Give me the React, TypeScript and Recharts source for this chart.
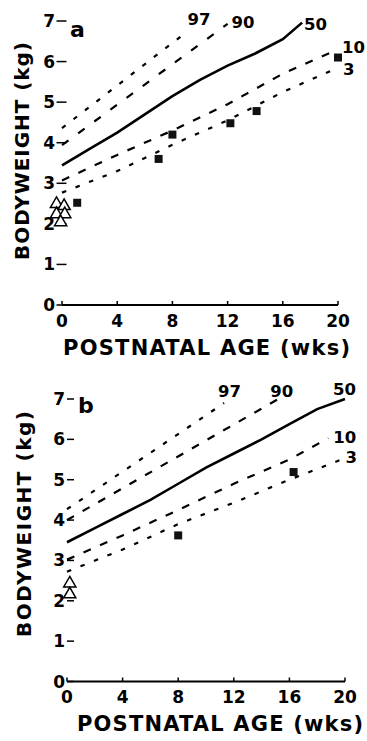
import React from 'react';
import { ComposedChart, Line, Scatter, XAxis, YAxis, ReferenceLine } from 'recharts';

const xTicks = [0, 4, 8, 12, 16, 20];
const yTicks = [0, 1, 2, 3, 4, 5, 6, 7];
const xTitle = 'POSTNATAL AGE (wks)';
const yTitle = 'BODYWEIGHT (kg)';

// Panel a – percentile curves
const a97 = [{ x: 0, y: 4.36 }, { x: 8.8, y: 6.67 }];
const a90 = [{ x: 0, y: 3.94 }, { x: 12, y: 6.93 }];
const a50 = [
  { x: 0, y: 3.44 }, { x: 2, y: 3.85 }, { x: 4, y: 4.25 }, { x: 6, y: 4.7 }, { x: 8, y: 5.15 },
  { x: 10, y: 5.55 }, { x: 12, y: 5.9 }, { x: 14, y: 6.2 }, { x: 16, y: 6.55 }, { x: 17.4, y: 6.96 },
];
const a10 = [{ x: 0, y: 3.07 }, { x: 4, y: 3.7 }, { x: 8, y: 4.3 }, { x: 12, y: 4.95 }, { x: 16, y: 5.7 }, { x: 20, y: 6.3 }];
const a3 = [{ x: 0, y: 2.77 }, { x: 4, y: 3.3 }, { x: 8, y: 3.95 }, { x: 12, y: 4.55 }, { x: 16, y: 5.25 }, { x: 20, y: 5.85 }];
const aSquares = [{ x: 1.1, y: 2.52 }, { x: 7, y: 3.6 }, { x: 8, y: 4.2 }, { x: 12.2, y: 4.48 }, { x: 14.1, y: 4.78 }, { x: 20, y: 6.1 }];
const aTriangles = [{ x: -0.4, y: 2.49 }, { x: 0.15, y: 2.44 }, { x: -0.4, y: 2.24 }, { x: 0.2, y: 2.24 }, { x: -0.1, y: 2.04 }];

// Panel b – percentile curves
const b97 = [{ x: 0, y: 4.27 }, { x: 11.3, y: 6.9 }];
const b90 = [{ x: 0, y: 4.0 }, { x: 15.2, y: 7.0 }];
const b50 = [
  { x: 0, y: 3.45 }, { x: 2, y: 3.8 }, { x: 4, y: 4.15 }, { x: 6, y: 4.5 }, { x: 8, y: 4.9 }, { x: 10, y: 5.3 },
  { x: 12, y: 5.65 }, { x: 14, y: 6.0 }, { x: 16, y: 6.38 }, { x: 18, y: 6.75 }, { x: 20, y: 7.0 },
];
const b10 = [{ x: 0, y: 3.02 }, { x: 4, y: 3.62 }, { x: 8, y: 4.25 }, { x: 12, y: 4.9 }, { x: 16, y: 5.5 }, { x: 18.8, y: 6.03 }];
const b3 = [{ x: 0, y: 2.72 }, { x: 4, y: 3.27 }, { x: 8, y: 3.9 }, { x: 12, y: 4.43 }, { x: 16, y: 5.0 }, { x: 19.6, y: 5.48 }];
const bSquares = [{ x: 8, y: 3.62 }, { x: 16.3, y: 5.19 }];
const bTriangles = [{ x: 0.2, y: 2.43 }, { x: 0.2, y: 2.16 }];

const FONT = '"DejaVu Sans", sans-serif';

const endLabel = (text: string, n: number, dx: number, dy: number) => (props: any) => {
  const { index } = props;
  if (index !== n - 1) return null;
  const x = props.x ?? props.viewBox?.x;
  const y = props.y ?? props.viewBox?.y;
  return (
    <text x={x + dx} y={y + dy} fontFamily={FONT} fontSize={16.5} fontWeight="bold" fill="#000">
      {text}
    </text>
  );
};

const tickStyle = { fontFamily: FONT, fontSize: 17, fontWeight: 'bold', fill: '#000' } as any;
const titleStyle = { fontFamily: FONT, fontWeight: 'bold', fill: '#000' } as any;

const dotted = '4.5 10';

export default function App() {
  return (
    <div style={{ position: 'absolute', left: 0, top: 0, width: 367, height: 741, background: '#fff' }}>
      {/* Panel a */}
      <div style={{ position: 'absolute', left: 0, top: 0 }}>
        <ComposedChart width={367} height={370} margin={{ top: 21, right: 29, left: 0, bottom: 0 }}>
          <XAxis
            dataKey="x"
            type="number"
            domain={[-0.4, 20]}
            ticks={xTicks}
            axisLine={false}
            tickSize={-4}
            tickMargin={14}
            tickLine={{ stroke: '#000', strokeWidth: 1.5 }}
            tick={tickStyle}
            height={65}
            interval={0}
          />
          <YAxis
            dataKey="y"
            type="number"
            domain={[0, 7]}
            ticks={yTicks}
            axisLine={false}
            width={56.5}
            tickSize={-10}
            tickMargin={11.5}
            tickLine={{ stroke: '#000', strokeWidth: 1.5 }}
            tick={tickStyle}
            interval={0}
          />
          <ReferenceLine segment={[{ x: 0, y: 0 }, { x: 20, y: 0 }]} stroke="#000" strokeWidth={1.8} />
          <Line data={a97} dataKey="y" stroke="#000" strokeWidth={2.2} strokeDasharray={dotted} dot={false} isAnimationActive={false} label={endLabel('97', a97.length, 4, -9)} />
          <Line data={a90} dataKey="y" stroke="#000" strokeWidth={2.2} strokeDasharray="8 12" dot={false} isAnimationActive={false} label={endLabel('90', a90.length, 4, 4)} />
          <Line data={a50} dataKey="y" stroke="#000" strokeWidth={2.6} dot={false} isAnimationActive={false} label={endLabel('50', a50.length, 2, 7)} />
          <Line data={a10} dataKey="y" stroke="#000" strokeWidth={2.2} strokeDasharray="8 10" dot={false} isAnimationActive={false} label={endLabel('10', a10.length, 4, 4)} />
          <Line data={a3} dataKey="y" stroke="#000" strokeWidth={2.2} strokeDasharray={dotted} dot={false} isAnimationActive={false} label={endLabel('3', a3.length, 5, 7)} />
          <Scatter data={aSquares} dataKey="y" shape="square" size={100} fill="#111" isAnimationActive={false} />
          <Scatter data={aTriangles} dataKey="y" shape="triangle" size={45} fill="#fff" stroke="#000" strokeWidth={1.5} isAnimationActive={false} />
          <text x={70} y={37} fontFamily={FONT} fontSize={22} fontWeight="bold" fill="#000">a</text>
          <text x={63} y={355} fontSize={21} textLength={287} lengthAdjust="spacing" style={titleStyle}>{xTitle}</text>
          <text transform="translate(28.5,260) rotate(-90)" x={0} y={0} fontSize={20} textLength={218} lengthAdjust="spacing" style={titleStyle}>{yTitle}</text>
        </ComposedChart>
      </div>
      {/* Panel b */}
      <div style={{ position: 'absolute', left: 0, top: 370 }}>
        <ComposedChart width={367} height={371} margin={{ top: 29, right: 22, left: 0, bottom: 0 }}>
          <XAxis
            dataKey="x"
            type="number"
            domain={[0, 20]}
            ticks={xTicks}
            axisLine={{ stroke: '#000', strokeWidth: 1.8 }}
            tickSize={-4}
            tickMargin={13.5}
            tickLine={{ stroke: '#000', strokeWidth: 1.5 }}
            tick={tickStyle}
            height={59.5}
            interval={0}
          />
          <YAxis
            dataKey="y"
            type="number"
            domain={[0, 7]}
            ticks={yTicks}
            axisLine={false}
            width={67}
            tickSize={-7}
            tickMargin={9}
            tickLine={{ stroke: '#000', strokeWidth: 1.5 }}
            tick={tickStyle}
            interval={0}
          />
          <Line data={b97} dataKey="y" stroke="#000" strokeWidth={2.2} strokeDasharray={dotted} dot={false} isAnimationActive={false} label={endLabel('97', b97.length, -6, -6)} />
          <Line data={b90} dataKey="y" stroke="#000" strokeWidth={2.2} strokeDasharray="8 10" dot={false} isAnimationActive={false} label={endLabel('90', b90.length, -8, -2)} />
          <Line data={b50} dataKey="y" stroke="#000" strokeWidth={2.6} dot={false} isAnimationActive={false} label={endLabel('50', b50.length, -12, -4)} />
          <Line data={b10} dataKey="y" stroke="#000" strokeWidth={2.2} strokeDasharray="8 10" dot={false} isAnimationActive={false} label={endLabel('10', b10.length, 5, 5)} />
          <Line data={b3} dataKey="y" stroke="#000" strokeWidth={2.2} strokeDasharray={dotted} dot={false} isAnimationActive={false} label={endLabel('3', b3.length, 6, 3)} />
          <Scatter data={bSquares} dataKey="y" shape="square" size={100} fill="#111" isAnimationActive={false} />
          <Scatter data={bTriangles} dataKey="y" shape="triangle" size={45} fill="#fff" stroke="#000" strokeWidth={1.5} isAnimationActive={false} />
          <text x={78} y={43} fontFamily={FONT} fontSize={22} fontWeight="bold" fill="#000">b</text>
          <text x={77} y={361} fontSize={21} textLength={286} lengthAdjust="spacing" style={titleStyle}>{xTitle}</text>
          <text transform="translate(31,267) rotate(-90)" x={0} y={0} fontSize={20} textLength={226} lengthAdjust="spacing" style={titleStyle}>{yTitle}</text>
        </ComposedChart>
      </div>
    </div>
  );
}
